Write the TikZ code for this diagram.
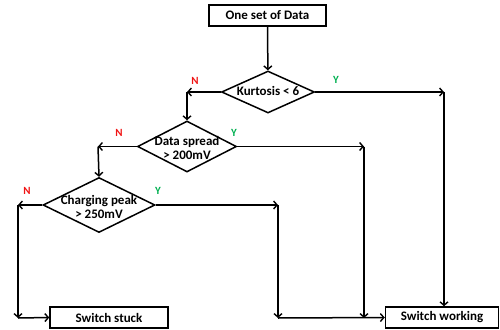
\documentclass[tikz,border=0pt]{standalone}
\usepackage{fontspec}
\setmainfont{Carlito}
\usetikzlibrary{shapes.geometric,arrows.meta}
\definecolor{nred}{RGB}{240,20,20}
\definecolor{ygreen}{RGB}{0,176,80}
\begin{document}
\begin{tikzpicture}[x=1pt,y=-1pt,
  every node/.style={font=\bfseries\fontsize{13}{15}\selectfont},
  box/.style={draw,line width=1.5pt,inner sep=0pt,minimum height=21pt},
  dia/.style={draw,diamond,line width=1.5pt,inner sep=0pt},
  arr/.style={line width=1.5pt,-{Straight Barb[length=3.5pt,width=8pt,line width=1.4pt]}},
  nlab/.style={text=nred,font=\bfseries\fontsize{11}{12}\selectfont},
  ylab/.style={text=ygreen,font=\bfseries\fontsize{11}{12}\selectfont}]
\useasboundingbox (0,0) rectangle (500,329);
\node[box,minimum width=117pt] (start) at (267.5,15.5) {One set of Data};
\node[dia,minimum width=93pt,minimum height=42pt] (d1) at (268,92) {\smash{\makebox[0pt]{\raisebox{-3.5pt}{Kurtosis < 6}}}};
\node[dia,minimum width=99pt,minimum height=51pt] (d2) at (187,146.5) {\smash{\makebox[0pt]{\raisebox{-6pt}{\begin{tabular}{@{}c@{}}Data spread\\[-1pt] > 200mV\end{tabular}}}}};
\node[dia,minimum width=112pt,minimum height=55pt] (d3) at (99,205) {\smash{\makebox[0pt]{\raisebox{-6pt}{\begin{tabular}{@{}c@{}}Charging peak\\[-1pt] > 250mV\end{tabular}}}}};
\node[box,minimum width=118pt] (stuck) at (109,317.5) {Switch stuck};
\node[box,minimum width=113pt] (work) at (442,317.5) {Switch working};
\coordinate (k1) at (187,92);
\coordinate (k2) at (444,92);
\coordinate (k3) at (98,146.5);
\coordinate (k4) at (364,146.5);
\coordinate (k5) at (364,318);
\coordinate (k6) at (18,205);
\coordinate (k7) at (18,318);
\coordinate (k8) at (278,205);
\coordinate (k9) at (278,318);
\draw[arr] (start) -- (d1);
\draw[arr] (d1.west) -- (k1);
\draw[arr] (k1) -- (d2.north);
\draw[arr] (d1.east) -- (k2);
\draw[arr] (k2) -- (k2 |- work.north);
\draw[arr] (d2.west) -- (k3);
\draw[arr] (k3) -- (d3.north);
\draw[arr] (d2.east) -- (k4);
\draw[arr] (k4) -- (k5);
\draw[arr] (d3.west) -- (k6);
\draw[arr] (k6) -- (k7);
\draw[arr] (k7) -- (stuck.west);
\draw[arr] (d3.east) -- (k8);
\draw[arr] (k8) -- (k9);
\draw[arr] (k9) -- (work.west);
\node[nlab] (n1) at (195,81) {N};
\node[ylab] (y1) at (336,80) {Y};
\node[nlab] (n2) at (119,133) {N};
\node[ylab] (y2) at (234,133) {Y};
\node[nlab] (n3) at (27,191) {N};
\node[ylab] (y3) at (158,191) {Y};
\end{tikzpicture}
\end{document}
